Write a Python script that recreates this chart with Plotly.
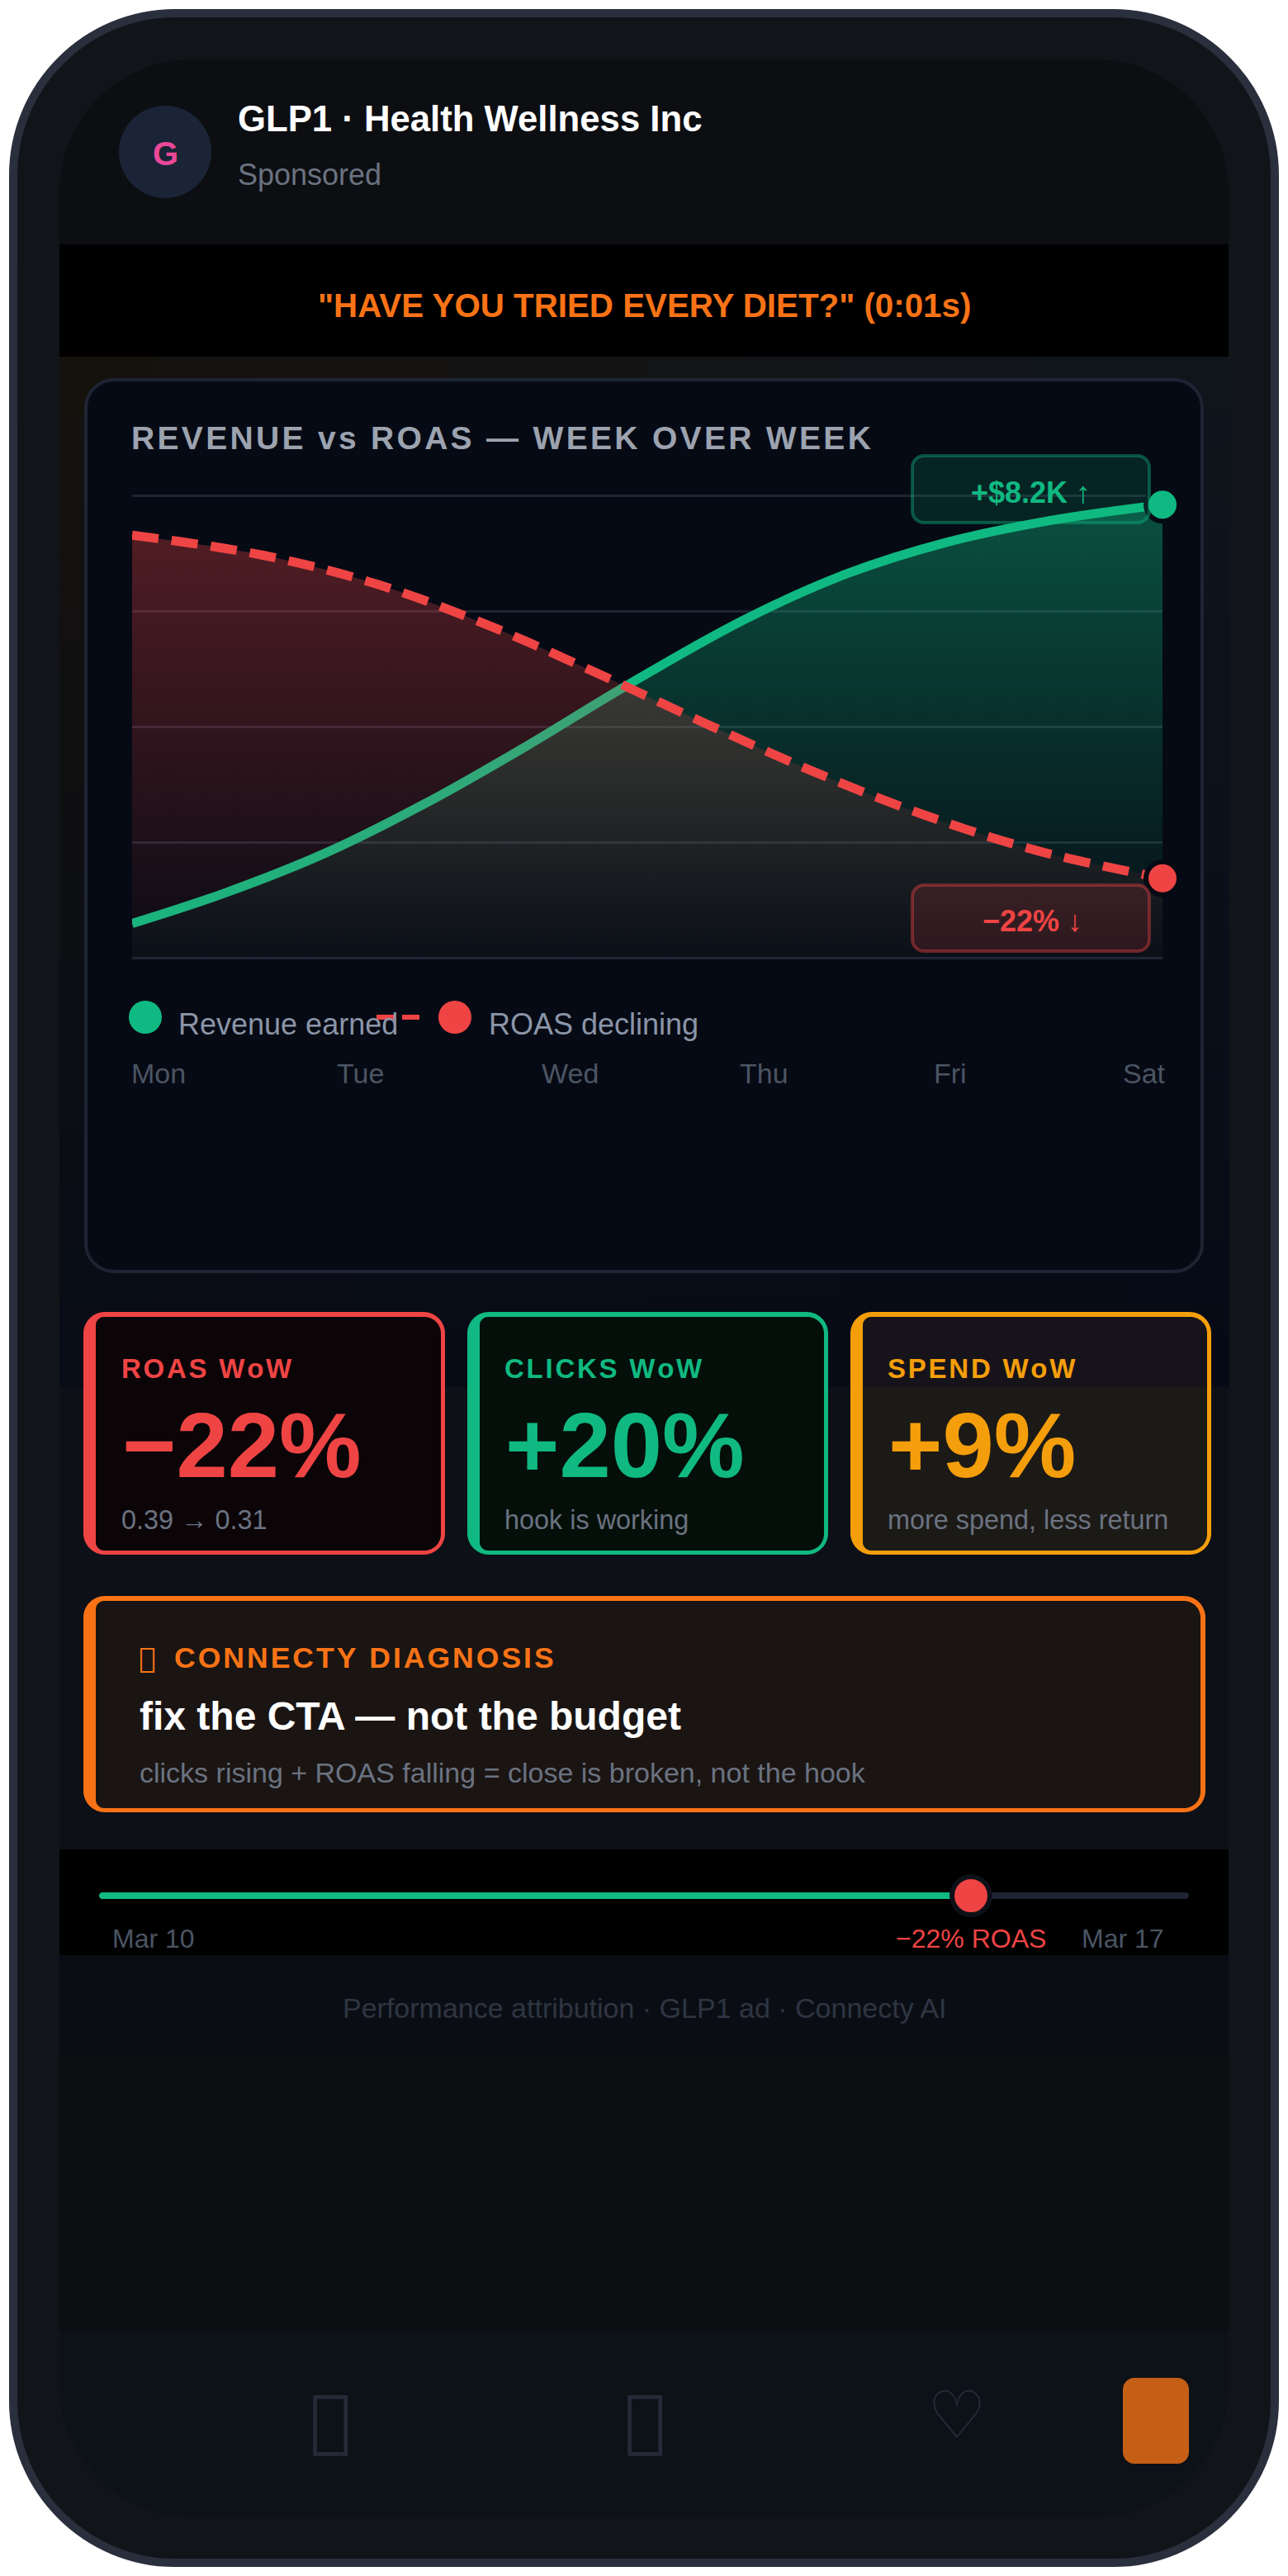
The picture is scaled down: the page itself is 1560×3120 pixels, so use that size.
import plotly.graph_objects as go

# chart values (y is 0-100 on the hidden scale, x is days since Mon)
days = ["Mon", "Tue", "Wed", "Thu", "Fri", "Sat"]
revenue_x = [0, 0.45, 0.941, 1.432, 1.922, 2.397, 2.974, 3.465, 3.956, 4.446, 5]
revenue_y = [7.4, 14.0, 22.7, 33.6, 46.0, 58.8, 73.2, 83.0, 89.9, 94.5, 98.0]
roas_x = [0, 0.63, 1.195, 1.734, 2.258, 2.786, 3.31, 3.849, 4.397, 5]
roas_y = [91.4, 87.1, 80.7, 71.8, 61.5, 50.6, 40.2, 30.8, 23.1, 17.2]

GREEN = "#10b981"
RED = "#ef4444"
AMBER = "#f59e0b"
ORANGE = "#f97316"
FONT = "Liberation Sans"
TOFU = "\ue000"  # the reference shows missing-glyph boxes for its icons
TOFU_FONT = "DejaVu Sans"

# page has an 8px body margin, so the figure sits 8px in
OFF = 8
W = 1544
H = 3104


def spaced(text, gap="\u200a"):
    return gap.join(text)


def rrect(x0, y0, x1, y1, tl, tr=None, br=None, bl=None):
    tr = tl if tr is None else tr
    br = tl if br is None else br
    bl = tl if bl is None else bl
    k = 0.45
    return (
        f"M{x0 + tl},{y0} L{x1 - tr},{y0} "
        f"C{x1 - tr * k},{y0} {x1},{y0 + tr * k} {x1},{y0 + tr} "
        f"L{x1},{y1 - br} C{x1},{y1 - br * k} {x1 - br * k},{y1} {x1 - br},{y1} "
        f"L{x0 + bl},{y1} C{x0 + bl * k},{y1} {x0},{y1 - bl * k} {x0},{y1 - bl} "
        f"L{x0},{y0 + tl} C{x0},{y0 + tl * k} {x0 + tl * k},{y0} {x0 + tl},{y0} Z"
    )


shapes = []


def panel(x0, y0, x1, y1, r, color, line=None, lw=0, layer="below"):
    radii = r if isinstance(r, tuple) else (r, r, r, r)
    shapes.append(dict(type="path", path=rrect(x0, y0, x1, y1, *radii), xref="x", yref="y",
                       fillcolor=color, line=dict(color=line or color, width=lw), layer=layer))


def dot(cx, cy, r, color, line=None, lw=0):
    shapes.append(dict(type="circle", x0=cx - r, x1=cx + r, y0=cy - r, y1=cy + r, xref="x", yref="y",
                       fillcolor=color, line=dict(color=line or color, width=lw), layer="below"))


texts = []


def label(x, y, text, size, color, bold=False, anchor="left", family=FONT):
    texts.append(dict(x=x, y=y, xref="x", yref="y", text=text, showarrow=False, xanchor=anchor, yanchor="middle",
                      borderpad=0, font=dict(family=family, size=size, color=color, weight=700 if bold else 400)))


# phone body and screen sections
panel(16, 16, 1544, 3104, 196, "#11151a", "#2a2f3d", 10)
panel(72, 72, 1488, 296, (160, 160, 0, 0), "#0c0e12")
panel(72, 296, 1488, 432, 0, "#000000")

# section background: soft tint, brown top left to navy bottom right
nx, ny = 12, 36
tl_c, tr_c = (21, 18, 14), (16, 21, 28)
bl_c, br_c = (8, 12, 22), (6, 10, 22)
cw, ch = (1488 - 72) / nx, (1680 - 432) / ny
for j in range(ny):
    for i in range(nx):
        u, v = i / (nx - 1), j / (ny - 1)
        c = [round((a * (1 - u) + b * u) * (1 - v) + (d * (1 - u) + e * u) * v)
             for a, b, d, e in zip(tl_c, tr_c, bl_c, br_c)]
        shapes.append(dict(type="rect", x0=72 + i * cw, x1=72 + (i + 1) * cw + 1, y0=432 + j * ch,
                           y1=432 + (j + 1) * ch + 1, xref="x", yref="y",
                           fillcolor=f"rgb({c[0]},{c[1]},{c[2]})", line=dict(width=0), layer="below"))
panel(72, 1680, 1488, 2240, 0, "#0d1017")
panel(72, 2240, 1488, 2368, 0, "#000000")
panel(72, 2368, 1488, 2487, 0, "#0a0e14")
panel(72, 2487, 1488, 2823, 0, "#0d0e11")
panel(72, 2823, 1488, 3048, (0, 0, 160, 160), "#0d1118")

# chart card
panel(104, 460, 1456, 1540, 34, "#060a14", "#1e2433", 4)

# stat cards: outer shape in the border colour, inner one in the fill
panel(101, 1589, 539, 1883, 26, RED)
panel(116, 1595, 534, 1878, (10, 20, 20, 10), "#0b0508")
panel(566, 1589, 1003, 1883, 26, GREEN)
panel(581, 1595, 998, 1878, (10, 20, 20, 10), "#040f0a")
panel(1030, 1589, 1467, 1883, 26, AMBER)
panel(1045, 1595, 1462, 1680, (10, 20, 0, 0), "#16141a")
panel(1045, 1680, 1462, 1878, (0, 0, 20, 10), "#1c1a16")

# diagnosis box
panel(101, 1933, 1460, 2195, 26, ORANGE)
panel(116, 1939, 1454, 2190, (10, 20, 20, 10), "#1a1513")

# slider
panel(120, 2292, 1440, 2300, 4, "#1e2433")
panel(120, 2292, 1176, 2300, 4, GREEN)
dot(1176, 2296, 23, RED, "#0d1117", 6)

# nav button
panel(1360, 2880, 1440, 2984, 14, "#c55f16")

# avatar
dot(200, 184, 56, "#1a2436")

# legend markers
dot(176, 1232, 20, GREEN)
dot(551, 1232, 20, RED)
panel(456, 1229, 478, 1235, 0, RED)
panel(487, 1229, 508, 1235, 0, RED)

# badges sit above the curves
panel(1105, 552, 1392, 633, 14, "rgba(16,185,129,0.15)", "rgba(16,185,129,0.4)", 4, layer="above")
panel(1105, 1072, 1392, 1152, 14, "rgba(239,68,68,0.15)", "rgba(239,68,68,0.4)", 4, layer="above")

# header text
label(200, 186, "<b>G</b>", 40, "#ec4899", anchor="center")
label(287, 143, "<b>GLP1 · Health Wellness Inc</b>", 43.7, "#ffffff")
label(287, 211, "Sponsored", 36, "#6b7280")
label(780, 370, '<b>"HAVE YOU TRIED EVERY DIET?" (0:01s)</b>', 40.3, ORANGE, anchor="center")

# chart text
label(158, 530, "<b>" + spaced("REVENUE vs ROAS — WEEK OVER WEEK") + "</b>", 39.1, "#9ca3af")
label(1248, 596, "<b>+$8.2K ↑</b>", 36, GREEN, anchor="center")
label(1250, 1115, "<b>−22% ↓</b>", 36, RED, anchor="center")
label(215, 1240, "Revenue earned", 36, "#8b95a8")
label(591, 1240, "ROAS declining", 36, "#8b95a8")
day_left = [158, 407, 655, 895, 1130, 1359]
for d, xp in zip(days, day_left):
    label(xp, 1300, d, 34, "#4b5563")

# stat cards text
cards = [
    (146, "ROAS WoW", "−22%", "0.39 → 0.31", RED),
    (610, "CLICKS WoW", "+20%", "hook is working", GREEN),
    (1074, "SPEND WoW", "+9%", "more spend, less return", AMBER),
]
for xp, name, val, note, col in cards:
    label(xp, 1657, "<b>" + spaced(name) + "</b>", 33, col)
    label(xp + 1, 1750, "<b>" + val + "</b>", 112, col)
    label(xp, 1841, note, 32.4, "#6b7280")

# diagnosis text
label(167, 2008, TOFU, 34, ORANGE, family=TOFU_FONT)
label(210, 2008, "<b>" + spaced("CONNECTY DIAGNOSIS") + "</b>", 35.6, ORANGE)
label(168, 2078, "<b>fix the CTA — not the budget</b>", 48, "#ffffff")
label(168, 2147, "clicks rising + ROAS falling = close is broken, not the hook", 34, "#6b7280")

# slider + footer text
label(135, 2348, "Mar 10", 32, "#4b5563")
label(1084, 2348, "−22% ROAS", 32, RED)
label(1309, 2348, "Mar 17", 32, "#4b5563")
label(780, 2432, "Performance attribution · GLP1 ad · Connecty AI", 34, "#2f3542", anchor="center")

# nav icons
label(400, 2931, TOFU, 84, "#252a38", anchor="center", family=TOFU_FONT)
label(781, 2931, TOFU, 84, "#252a38", anchor="center", family=TOFU_FONT)
label(1159, 2925, "♡", 80, "#252a38", anchor="center")

fig = go.Figure()

fig.add_trace(go.Scatter(
    x=revenue_x, y=revenue_y, mode="lines", xaxis="x2", yaxis="y2", fill="tozeroy",
    line=dict(color=GREEN, width=11, shape="spline", smoothing=1),
    fillgradient=dict(type="vertical", colorscale=[[0, "rgba(16,185,129,0.02)"], [1, "rgba(16,185,129,0.4)"]]),
))
fig.add_trace(go.Scatter(
    x=roas_x, y=roas_y, mode="lines", xaxis="x2", yaxis="y2", fill="tozeroy",
    line=dict(color=RED, width=11, dash="32px,16px", shape="spline", smoothing=1),
    fillgradient=dict(type="vertical", colorscale=[[0, "rgba(239,68,68,0.02)"], [1, "rgba(239,68,68,0.32)"]]),
))
fig.add_trace(go.Scatter(
    x=[revenue_x[-1]], y=[revenue_y[-1]], mode="markers", xaxis="x2", yaxis="y2", cliponaxis=False,
    marker=dict(color=GREEN, size=40, line=dict(color="#060a14", width=6)),
))
fig.add_trace(go.Scatter(
    x=[roas_x[-1]], y=[roas_y[-1]], mode="markers", xaxis="x2", yaxis="y2", cliponaxis=False,
    marker=dict(color=RED, size=40, line=dict(color="#060a14", width=6)),
))

fig.update_layout(
    width=W, height=H, margin=dict(l=0, r=0, t=0, b=0), showlegend=False,
    paper_bgcolor="#ffffff", plot_bgcolor="rgba(0,0,0,0)",
    shapes=shapes, annotations=texts,
    # full page canvas in reference pixels
    xaxis=dict(domain=[0, 1], range=[OFF, OFF + W], visible=False),
    yaxis=dict(domain=[0, 1], range=[OFF + H, OFF], visible=False),
    # the chart itself, y runs one unit past 0 and 100 so the edge grid lines show
    xaxis2=dict(domain=[(160 - OFF) / W, (1408 - OFF) / W], range=[0, 5], visible=False, anchor="y2"),
    yaxis2=dict(domain=[1 - (1165.6 - OFF) / H, 1 - (594.4 - OFF) / H], range=[-1, 101], tick0=0, dtick=25, anchor="x2",
                showgrid=True, gridcolor="#1e2433", gridwidth=3, zeroline=False, showticklabels=False, ticks=""),
)

fig.write_html("out.html")
